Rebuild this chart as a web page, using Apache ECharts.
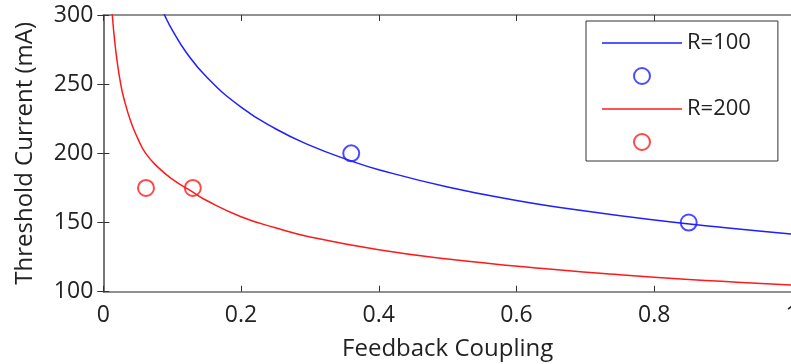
<!DOCTYPE html>
<html>
<head>
<meta charset="utf-8">
<script src="https://cdn.jsdelivr.net/npm/echarts@6/dist/echarts.min.js"></script>
<style>html,body{margin:0;padding:0;background:#fff;}#c{width:791px;height:364px;}</style>
</head>
<body>
<div id="c"></div>
<script>
// Curve samples
const curveX100 = [0.08, 0.09, 0.1, 0.12, 0.15, 0.2, 0.25, 0.3, 0.36, 0.4, 0.5, 0.6, 0.7, 0.8, 0.9, 1.0];
const curveY100 = [310.0, 298.8, 289.3, 273.3, 255.2, 233.4, 217.8, 205.8, 194.5, 188.2, 175.7, 166.0, 158.3, 151.8, 146.4, 141.7];
const curveX200 = [0.011, 0.0131, 0.016, 0.02, 0.0253, 0.03, 0.04, 0.05, 0.0616, 0.08, 0.1, 0.129, 0.15, 0.2, 0.25, 0.3, 0.4, 0.5, 0.634, 0.75, 0.85, 0.92, 1.0];
const curveY200 = [314.8, 300.0, 283.8, 266.8, 250.0, 239.5, 222.8, 210.8, 200.0, 189.7, 181.4, 172.3, 165.9, 154.2, 146.2, 139.6, 130.3, 123.6, 116.9, 112.3, 108.9, 106.9, 104.8];
// Measured points
const pointsX100 = [0.36, 0.85];
const pointsY100 = [200, 150];
const pointsX200 = [0.062, 0.13];
const pointsY200 = [175, 175];
// Axis ticks
const xMin = 0, xMax = 1, xStep = 0.2;
const yMin = 100, yMax = 300, yStep = 50;

const zip = (xs, ys) => xs.map((x, i) => [x, ys[i]]);
const BLUE = '#1f1fff', RED = '#ff1a1a';
const AXC = '#6e6e6e';
const FONT = 'Open Sans';
const LINE_ICON = 'path://M0,0H80V1.3H0Z';

const chart = echarts.init(document.getElementById('c'));
const axisBase = {
  axisLine: { show: true, lineStyle: { color: AXC, width: 1.5 } },
  axisTick: { show: true, inside: true, length: 6, lineStyle: { color: '#333', width: 1 } },
  splitLine: { show: false }
};
chart.setOption({
  animation: false,
  backgroundColor: '#fff',
  grid: { left: 103.3, right: -1, top: 15, bottom: 72.3, containLabel: false, outerBoundsMode: 'none' },
  xAxis: [
    Object.assign({}, axisBase, {
      type: 'value', min: xMin, max: xMax, interval: xStep, position: 'bottom',
      name: 'Feedback Coupling', nameLocation: 'middle', nameGap: 45,
      nameTextStyle: { fontFamily: FONT, fontSize: 24, color: '#222' },
      axisLabel: { fontFamily: FONT, fontSize: 23, color: '#222', margin: 12,
        alignMinLabel: 'center', alignMaxLabel: 'center' }
    }),
    Object.assign({}, axisBase, {
      type: 'value', min: xMin, max: xMax, interval: xStep, position: 'top',
      axisLabel: { show: false }
    })
  ],
  yAxis: [
    Object.assign({}, axisBase, {
      type: 'value', min: yMin, max: yMax, interval: yStep, position: 'left',
      name: 'Threshold Current (mA)', nameLocation: 'middle', nameGap: 66, nameRotate: 90,
      nameTextStyle: { fontFamily: FONT, fontSize: 24, color: '#222' },
      axisLabel: { fontFamily: FONT, fontSize: 23, color: '#222', margin: 10 }
    }),
    Object.assign({}, axisBase, {
      type: 'value', min: yMin, max: yMax, interval: yStep, position: 'right',
      axisLabel: { show: false }
    })
  ],
  legend: {
    orient: 'vertical', left: 586, top: 21,
    padding: [11, 27, 10, 16],
    itemWidth: 80, itemHeight: 16, itemGap: 13,
    borderColor: '#333', borderWidth: 1, backgroundColor: '#fff',
    textStyle: { fontFamily: FONT, fontSize: 22, color: '#222' },
    formatter: n => n.indexOf('pts') >= 0 ? '' : n,
    data: [
      { name: 'R=100', icon: LINE_ICON },
      { name: 'R=100 pts' },
      { name: 'R=200', icon: LINE_ICON },
      { name: 'R=200 pts' }
    ]
  },
  series: [
    { name: 'R=100', type: 'line', data: zip(curveX100, curveY100), showSymbol: false, symbol: 'none',
      smooth: true, clip: true, lineStyle: { color: BLUE, width: 1.5 }, itemStyle: { color: BLUE } },
    { name: 'R=100 pts', type: 'scatter', data: zip(pointsX100, pointsY100), symbol: 'emptyCircle', symbolSize: 16,
      itemStyle: { color: BLUE, borderColor: BLUE, borderWidth: 1.6 } },
    { name: 'R=200', type: 'line', data: zip(curveX200, curveY200), showSymbol: false, symbol: 'none',
      smooth: true, clip: true, lineStyle: { color: RED, width: 1.5 }, itemStyle: { color: RED } },
    { name: 'R=200 pts', type: 'scatter', data: zip(pointsX200, pointsY200), symbol: 'emptyCircle', symbolSize: 16,
      itemStyle: { color: RED, borderColor: RED, borderWidth: 1.6 } }
  ]
});
</script>
</body>
</html>
